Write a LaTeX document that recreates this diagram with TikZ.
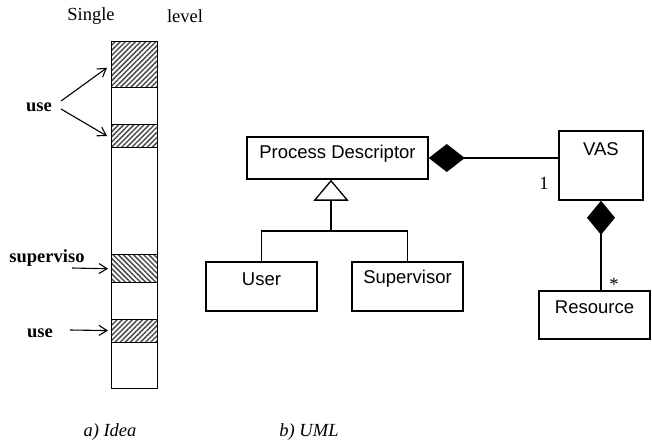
\documentclass[tikz,border=0pt]{standalone}
\usepackage{fontspec}
\setmainfont{Liberation Serif}
\newfontfamily\umlfont{Liberation Sans}
\usetikzlibrary{arrows.meta,patterns.meta}
\begin{document}
\begin{tikzpicture}[x=1pt,y=-1pt,
  every node/.style={font=\fontsize{18.5}{22}\selectfont},
  colbox/.style={draw,line width=1.1pt,minimum width=46pt,inner sep=0pt,anchor=north west},
  hatchne/.style={colbox,pattern={Lines[angle=45,distance=3.6pt,line width=1.5pt]},pattern color=black!70},
  hatchnw/.style={colbox,pattern={Lines[angle=-45,distance=3.6pt,line width=1.5pt]},pattern color=black!70},
  lbl/.style={font=\fontsize{18.5}{22}\selectfont\bfseries,inner sep=0pt},
  captext/.style={font=\fontsize{18.5}{22}\selectfont\itshape,inner sep=0pt},
  ptr/.style={line width=1.1pt,-{Straight Barb[length=8pt,width=10pt]}},
  umlbox/.style={draw,line width=1.5pt,inner sep=0pt},
  umltext/.style={font=\fontsize{18.5}{22}\selectfont\umlfont,inner sep=0pt},
  uml/.style={line width=1.5pt},
  mult/.style={font=\fontsize{18.5}{22}\selectfont,inner sep=0pt}]
\useasboundingbox (0,0) rectangle (652,442);

% ---- a) memory column ----
\node[colbox,minimum height=347pt] (col) at (111,41) {};
\node[hatchne,minimum height=46pt] (h1) at (111,41) {};
\node[hatchne,minimum height=23pt] (h2) at (111,124) {};
\node[hatchnw,minimum height=28pt] (h3) at (111,254) {};
\node[hatchne,minimum height=23pt] (h4) at (111,319) {};

\node[inner sep=0pt] (single) at (91,16) {Single};
\node[inner sep=0pt] (level) at (185,16) {level};

\node[lbl] (u1) at (39,107) {use};
\draw[ptr] ([xshift=9pt,yshift=6pt]u1.east) -- ([xshift=-4pt,yshift=-3pt]h1.west);
\draw[ptr] ([xshift=9pt,yshift=-2pt]u1.east) -- ([xshift=-4pt]h2.west);

\node[lbl] (sv) at (47,258) {superviso};
\coordinate (s0) at (72,268);
\draw[ptr] (s0) -- ([xshift=-3pt]h3.west);

\node[lbl] (u2) at (40,333) {use};
\coordinate (s1) at (70,330);
\draw[ptr] (s1) -- ([xshift=-3pt,yshift=0.5pt]h4.west);

\node[captext] (capa) at (110,432) {a) Idea};

% ---- b) UML ----
\node[umlbox,minimum width=181pt,minimum height=42pt] (pd) at (337.5,158) {};
\node[umltext] (pdt) at (337.5,154) {Process Descriptor};

\node[umlbox,minimum width=111pt,minimum height=49pt] (user) at (261.5,286.5) {};
\node[umltext] (usert) at (261.5,279) {User};

\node[umlbox,minimum width=111pt,minimum height=49pt] (sup) at (407.5,286.5) {};
\node[umltext] (supt) at (407.5,279) {Supervisor};

\node[umlbox,minimum width=84pt,minimum height=69pt] (vas) at (601,165.5) {};
\node[umltext] (vast) at (601,149) {VAS};

\node[umlbox,minimum width=111pt,minimum height=48pt] (res) at (594.5,315) {};
\node[umltext] (rest) at (594.5,307) {Resource};

% generalization
\coordinate (jn) at (331,231);
\draw[uml] (user.north) |- (jn) -| (sup.north);
\draw[uml,-{Triangle[open,width=35pt,length=21pt,line width=1.3pt]}] (jn) -- (jn |- pd.south);

% compositions
\draw[uml,{Diamond[width=28pt,length=36pt]}-] (pd.east) -- (pd.east -| vas.west);
\draw[uml,{Diamond[width=28pt,length=34pt]}-] (vas.south) -- (vas.south |- res.north);

\node[mult] (m1) at (544,183) {1};
\node[mult] (m2) at (614,284) {*};

\node[captext] (capb) at (309,432) {b) UML};
\end{tikzpicture}
\end{document}
